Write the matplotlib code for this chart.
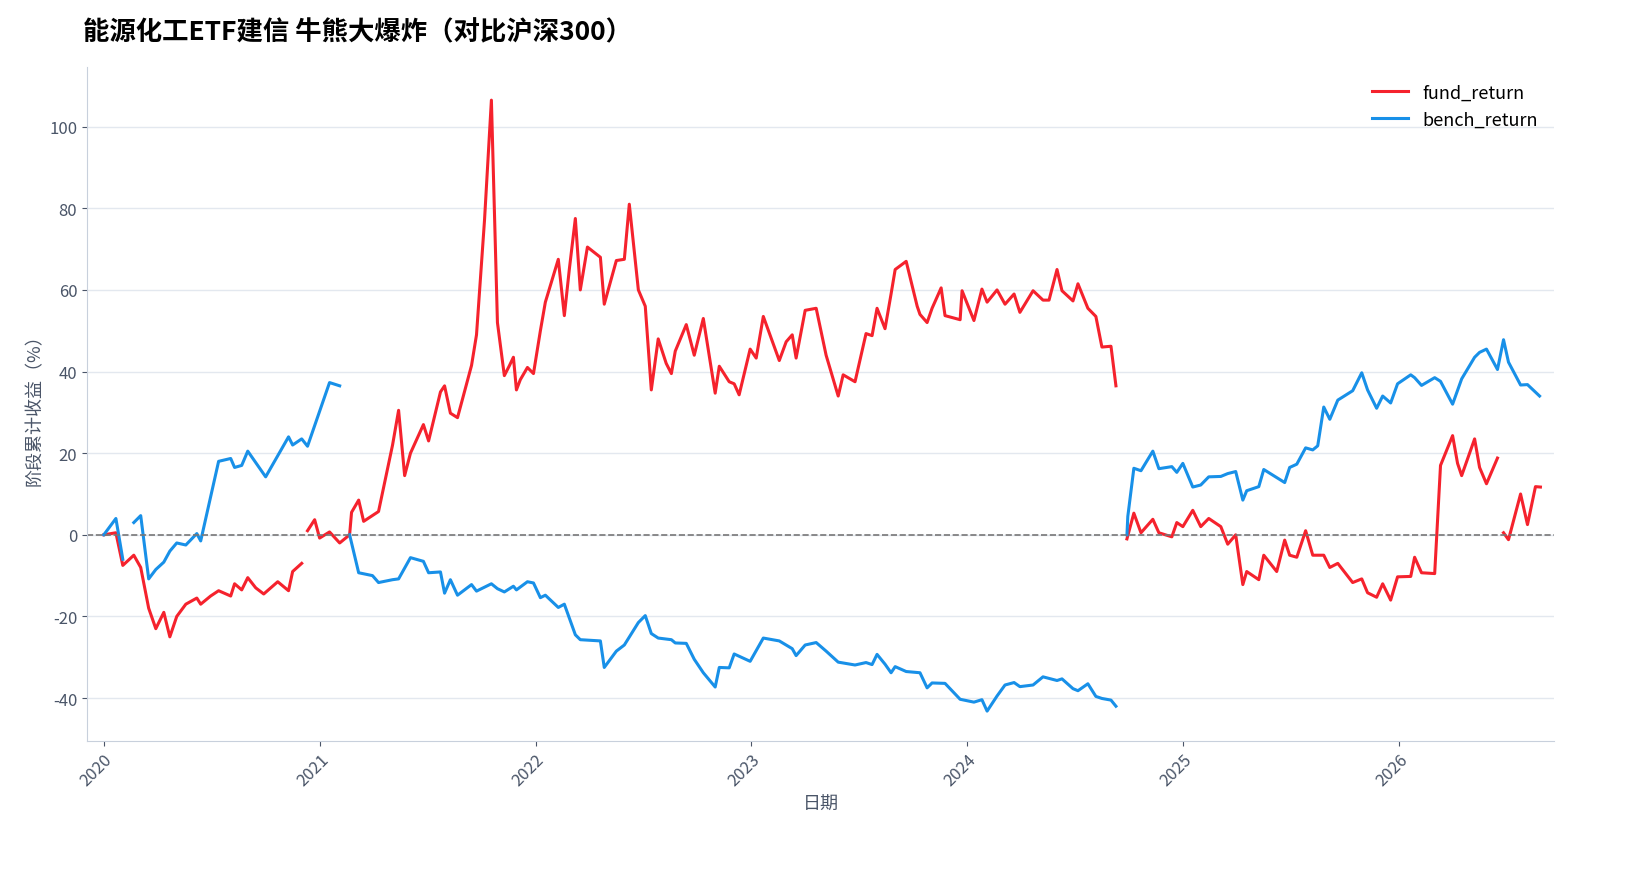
import numpy as np, pandas as pd
import matplotlib
matplotlib.use("Agg")
import matplotlib.pyplot as plt
import matplotlib.dates as mdates

plt.rcParams['font.family'] = ['Noto Sans CJK SC', 'DejaVu Sans']
plt.rcParams['axes.unicode_minus'] = False
N = np.nan

fund_t = [2020.0,2020.056,2020.088,2020.139,2020.171,2020.208,2020.241,2020.278,2020.306,2020.338,2020.380,2020.431,2020.449,2020.495,2020.532,2020.588,2020.606,2020.639,2020.667,2020.704,2020.741,2020.806,2020.856,2020.875,2020.917,2020.930,
2020.944,2020.977,2021.0,2021.046,2021.093,2021.139,2021.148,2021.181,2021.204,2021.273,2021.338,2021.366,2021.394,2021.421,2021.481,2021.505,2021.560,2021.579,2021.606,2021.639,2021.704,2021.727,2021.764,2021.796,2021.824,2021.856,2021.880,2021.898,2021.912,2021.930,2021.963,2021.991,2022.023,2022.046,2022.106,2022.134,2022.157,2022.185,2022.208,2022.241,2022.301,2022.319,2022.375,2022.412,2022.435,2022.477,2022.509,2022.537,2022.569,2022.606,2022.630,2022.648,2022.699,2022.736,2022.778,2022.833,2022.852,2022.898,2022.921,2022.944,2022.995,2023.023,2023.056,2023.130,2023.162,2023.190,2023.208,2023.250,2023.301,2023.347,2023.403,2023.426,2023.481,2023.532,2023.560,2023.583,2023.620,2023.648,2023.667,2023.718,2023.769,2023.782,2023.815,2023.838,2023.880,2023.898,2023.968,2023.977,2024.032,2024.069,2024.093,2024.139,2024.176,2024.218,2024.245,2024.306,2024.352,2024.380,2024.417,2024.440,2024.491,2024.514,2024.560,2024.597,2024.625,2024.667,2024.690,2024.715,
2024.741,2024.773,2024.806,2024.861,2024.889,2024.949,2024.972,2025.0,2025.046,2025.083,2025.120,2025.176,2025.208,2025.245,2025.278,2025.296,2025.352,2025.375,2025.435,2025.472,2025.495,2025.528,2025.569,2025.602,2025.653,2025.681,2025.718,2025.787,2025.829,2025.856,2025.898,2025.926,2025.963,2025.995,2026.056,2026.074,2026.106,2026.167,2026.194,2026.250,2026.273,2026.292,2026.352,2026.375,2026.407,2026.458,2026.472,
2026.486,2026.509,2026.565,2026.597,2026.634,2026.657]
fund_v = [0,0.5,-7.5,-5,-8,-18,-23,-19,-25,-20,-17,-15.5,-17,-15,-13.7,-15,-12,-13.5,-10.5,-13,-14.5,-11.5,-13.7,-9,-7,N,
1,3.7,-0.8,0.7,-2,0,5.5,8.5,3.3,5.7,22,30.5,14.5,20,27,23,35,36.5,29.8,28.7,41.5,49,77,106.5,52,39,41.5,43.5,35.5,38,41,39.5,50,57,67.5,53.7,65,77.5,60,70.5,68,56.5,67.2,67.5,81,60,56,35.5,48,42,39.5,45,51.5,44,53,34.7,41.3,37.5,37,34.3,45.5,43.3,53.5,42.7,47.3,49,43.3,55,55.5,44,34,39.2,37.5,49.3,48.8,55.5,50.5,59,65,67,56,54,52,55.5,60.5,53.7,52.7,59.8,52.5,60.2,57,60,56.5,59,54.5,59.8,57.5,57.5,65,59.8,57.3,61.5,55.5,53.5,46,46.2,36.5,N,
-1,5.3,0.5,3.8,0.5,-0.5,3,2,6,2,4,2,-2.3,0,-12.2,-9,-11,-5,-9,-1.3,-5,-5.5,1,-5,-5,-8,-7,-11.7,-10.8,-14.2,-15.3,-12,-16,-10.3,-10.2,-5.5,-9.3,-9.5,17,24.3,17.5,14.5,23.5,16.5,12.5,18.8,N,
0.5,-1.2,10,2.5,11.8,11.7]

bench_t = [2020.0,2020.056,2020.088,2020.110,
2020.139,2020.171,2020.208,2020.241,2020.278,2020.306,2020.338,2020.380,2020.431,2020.449,2020.532,2020.588,2020.606,2020.639,2020.667,2020.750,2020.856,2020.875,2020.917,2020.944,2021.046,2021.093,2021.115,
2021.139,2021.181,2021.245,2021.273,2021.338,2021.366,2021.421,2021.481,2021.505,2021.560,2021.579,2021.606,2021.639,2021.704,2021.727,2021.796,2021.824,2021.856,2021.898,2021.912,2021.963,2021.991,2022.023,2022.046,2022.106,2022.134,2022.185,2022.208,2022.301,2022.319,2022.375,2022.412,2022.477,2022.509,2022.537,2022.569,2022.630,2022.648,2022.699,2022.736,2022.778,2022.833,2022.852,2022.898,2022.921,2022.995,2023.056,2023.130,2023.190,2023.208,2023.250,2023.301,2023.347,2023.403,2023.481,2023.532,2023.560,2023.583,2023.620,2023.648,2023.667,2023.718,2023.782,2023.815,2023.838,2023.898,2023.968,2024.032,2024.069,2024.093,2024.139,2024.176,2024.218,2024.245,2024.306,2024.352,2024.417,2024.440,2024.491,2024.514,2024.560,2024.597,2024.625,2024.667,2024.690,2024.715,
2024.741,2024.745,2024.773,2024.806,2024.861,2024.889,2024.949,2024.972,2025.0,2025.046,2025.083,2025.120,2025.176,2025.208,2025.245,2025.278,2025.296,2025.352,2025.375,2025.472,2025.495,2025.528,2025.569,2025.602,2025.625,2025.653,2025.681,2025.718,2025.787,2025.829,2025.856,2025.898,2025.926,2025.963,2025.995,2026.056,2026.074,2026.106,2026.167,2026.194,2026.250,2026.292,2026.352,2026.375,2026.407,2026.458,2026.486,2026.509,2026.565,2026.597,2026.653]
bench_v = [0,4,-6,N,
3,4.7,-10.8,-8.5,-6.7,-4,-2,-2.5,0.3,-1.5,18,18.7,16.5,17,20.5,14.2,24,22,23.5,21.7,37.3,36.5,N,
0,-9.3,-10,-11.7,-11,-10.8,-5.6,-6.5,-9.3,-9.1,-14.3,-11,-14.8,-12.2,-13.8,-12,-13.2,-14,-12.6,-13.5,-11.5,-11.8,-15.4,-14.8,-17.8,-17,-24.5,-25.7,-26,-32.5,-28.5,-27,-21.5,-19.8,-24.2,-25.3,-25.7,-26.5,-26.6,-30.5,-33.8,-37.3,-32.5,-32.6,-29.2,-31,-25.3,-26,-27.9,-29.6,-27,-26.4,-28.5,-31.2,-31.9,-31.3,-31.8,-29.3,-31.7,-33.8,-32.3,-33.5,-33.8,-37.5,-36.3,-36.4,-40.3,-41,-40.4,-43.2,-39.5,-36.8,-36.2,-37.2,-36.8,-34.8,-35.7,-35.3,-37.7,-38.2,-36.5,-39.6,-40.1,-40.5,-42,N,
0,4.5,16.3,15.7,20.5,16.2,16.7,15.3,17.5,11.7,12.2,14.2,14.3,15,15.5,8.5,10.8,11.8,16,12.8,16.5,17.3,21.3,20.8,21.8,31.3,28.3,33,35.3,39.7,35.5,31,34,32.3,37,39.2,38.5,36.6,38.5,37.6,32,38.2,43.5,44.7,45.5,40.5,47.8,42.3,36.7,36.8,34]

def todate(ts):
    base = pd.Timestamp('2020-01-01')
    return [base + pd.Timedelta(days=(t-2020)*365.25) for t in ts]

fig, ax = plt.subplots(figsize=(16.41, 8.78), dpi=100)
fig.subplots_adjust(left=0.053, right=0.947, top=0.922, bottom=0.155)
ax.plot(todate(fund_t), fund_v, color='#f5222d', lw=2.2, label='fund_return')
ax.plot(todate(bench_t), bench_v, color='#1890e8', lw=2.2, label='bench_return')
ax.axhline(0, color='#777777', ls='--', lw=1.2)
ax.set_ylim(-50.5, 114.5)
ax.set_xlim(todate([2019.922, 2026.72]))
ax.set_yticks([-40,-20,0,20,40,60,80,100])
ax.xaxis.set_major_locator(mdates.YearLocator())
ax.xaxis.set_major_formatter(mdates.DateFormatter('%Y'))
ax.grid(axis='y', color='#e3e8ef', lw=1)
ax.set_axisbelow(True)
for s in ['top','right']:
    ax.spines[s].set_visible(False)
for s in ['left','bottom']:
    ax.spines[s].set_color('#c8d0dc')
ax.tick_params(colors='#4a5568', labelsize=12)
for lab in ax.get_xticklabels():
    lab.set_rotation(45); lab.set_ha('right'); lab.set_rotation_mode('anchor')
ax.set_xlabel('日期', fontsize=13, color='#4a5568')
ax.set_ylabel('阶段累计收益（%）', fontsize=13, color='#4a5568')
ax.set_title('能源化工ETF建信 牛熊大爆炸（对比沪深300）', loc='left', fontsize=19, fontweight='bold', pad=20, x=-0.003)
ax.legend(loc='upper right', frameon=False, fontsize=13)
fig.savefig('out.png', dpi=100)
